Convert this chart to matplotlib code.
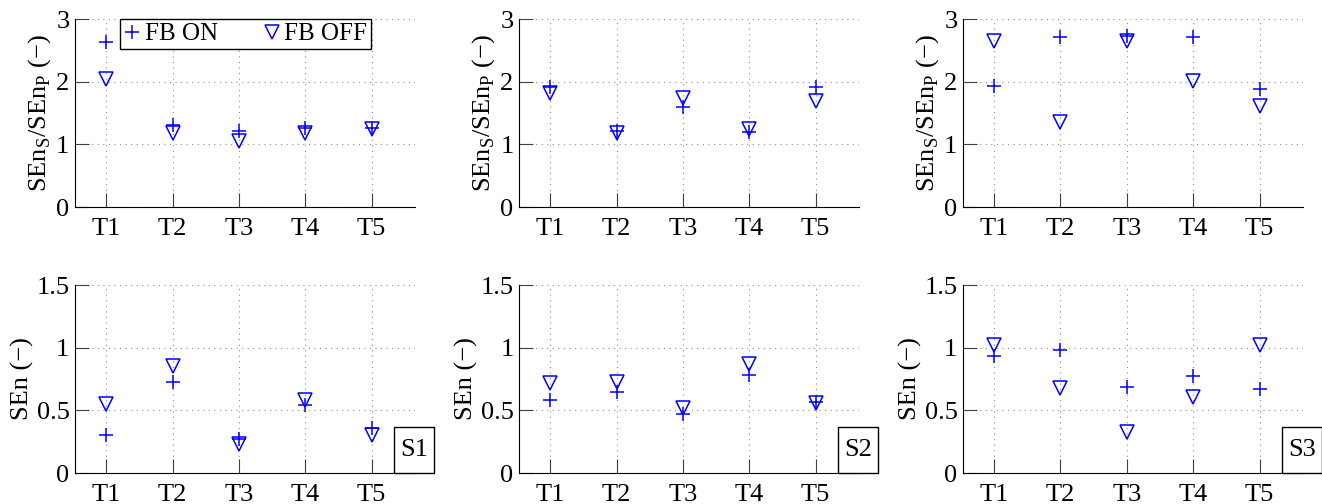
# Six panels: SEn ratio (top) and SEn (bottom) for subjects S1-S3, FB ON vs FB OFF
import matplotlib.pyplot as plt
from matplotlib.patches import Rectangle

plt.rcParams['font.family'] = ['Liberation Serif', 'DejaVu Serif']
plt.rcParams['mathtext.fontset'] = 'custom'
plt.rcParams['mathtext.rm'] = 'Liberation Serif'

trials = ['T1', 'T2', 'T3', 'T4', 'T5']
subjects = ['S1', 'S2', 'S3']

# SEn_S / SEn_P ratio
ratio_on = [
    [2.64, 1.31, 1.21, 1.26, 1.26],
    [1.91, 1.21, 1.60, 1.20, 1.91],
    [1.93, 2.71, 2.73, 2.71, 1.88],
]
ratio_off = [
    [2.04, 1.18, 1.05, 1.18, 1.24],
    [1.82, 1.18, 1.74, 1.24, 1.70],
    [2.65, 1.36, 2.65, 2.02, 1.62],
]

# SEn
sen_on = [
    [0.30, 0.73, 0.27, 0.54, 0.36],
    [0.58, 0.65, 0.47, 0.78, 0.57],
    [0.93, 0.98, 0.685, 0.775, 0.67],
]
sen_off = [
    [0.55, 0.85, 0.23, 0.58, 0.30],
    [0.72, 0.73, 0.52, 0.87, 0.56],
    [1.02, 0.68, 0.33, 0.605, 1.02],
]

fig = plt.figure(figsize=(13.22, 5.04), dpi=100)

lefts = [0.0567, 0.3926, 0.7284]
width = 0.257
height = 0.373
x = list(range(1, len(trials) + 1))


def style_axes(ax, yticks, ylabels):
    ax.set_xlim(0.53, 5.65)
    ax.set_xticks(x)
    ax.set_xticklabels(trials)
    ax.set_yticks(yticks)
    ax.set_yticklabels(ylabels)
    ax.set_ylim(yticks[0], yticks[-1])
    ax.spines['top'].set_visible(False)
    ax.spines['right'].set_visible(False)
    ax.tick_params(direction='in', length=10, width=0.8, color='0.25',
                   labelsize=19, pad=4)
    ax.tick_params(axis='x', pad=8)
    ax.grid(True, linestyle=(0, (1, 4)), color='0.55', linewidth=0.8)
    ax.set_axisbelow(True)


for i in range(3):
    # top row
    ax = fig.add_axes([lefts[i], 0.589, width, height])
    h1, = ax.plot(x, ratio_on[i], '+', color='blue', markersize=10, mew=1.1, clip_on=False)
    h2, = ax.plot(x, ratio_off[i], 'v', color='blue', mfc='none', markersize=10, mew=1.1, clip_on=False)
    style_axes(ax, [0, 1, 2, 3], ['0', '1', '2', '3'])
    ax.set_ylabel(r'SEn$_\mathregular{S}$/SEn$_\mathregular{P}$ (−)', fontsize=19, labelpad=2)
    if i == 0:
        leg = ax.legend([h1, h2], ['FB ON', 'FB OFF'], ncol=2, loc='upper left',
                        bbox_to_anchor=(0.132, 1.0), borderaxespad=0, fontsize=18,
                        handlelength=0.7, handletextpad=0.15, columnspacing=1.8,
                        borderpad=0.15, fancybox=False, framealpha=1)
        leg.get_frame().set_edgecolor('black')
        leg.get_frame().set_linewidth(1.0)

    # bottom row
    ax = fig.add_axes([lefts[i], 0.0615, width, height])
    ax.plot(x, sen_on[i], '+', color='blue', markersize=10, mew=1.1, clip_on=False)
    ax.plot(x, sen_off[i], 'v', color='blue', mfc='none', markersize=10, mew=1.1, clip_on=False)
    style_axes(ax, [0, 0.5, 1, 1.5], ['0', '0.5', '1', '1.5'])
    ax.set_ylabel('SEn (−)', fontsize=19, labelpad=2)

    # subject tag in a box at the bottom right
    ax.add_patch(Rectangle((0.94, 0), 0.116, 0.245, transform=ax.transAxes,
                           facecolor='white', edgecolor='black', linewidth=1.0,
                           clip_on=False, zorder=5))
    ax.text(0.998, 0.1225, subjects[i], transform=ax.transAxes, ha='center',
            va='center', fontsize=19, zorder=6)

fig.savefig('out.png', dpi=100)
